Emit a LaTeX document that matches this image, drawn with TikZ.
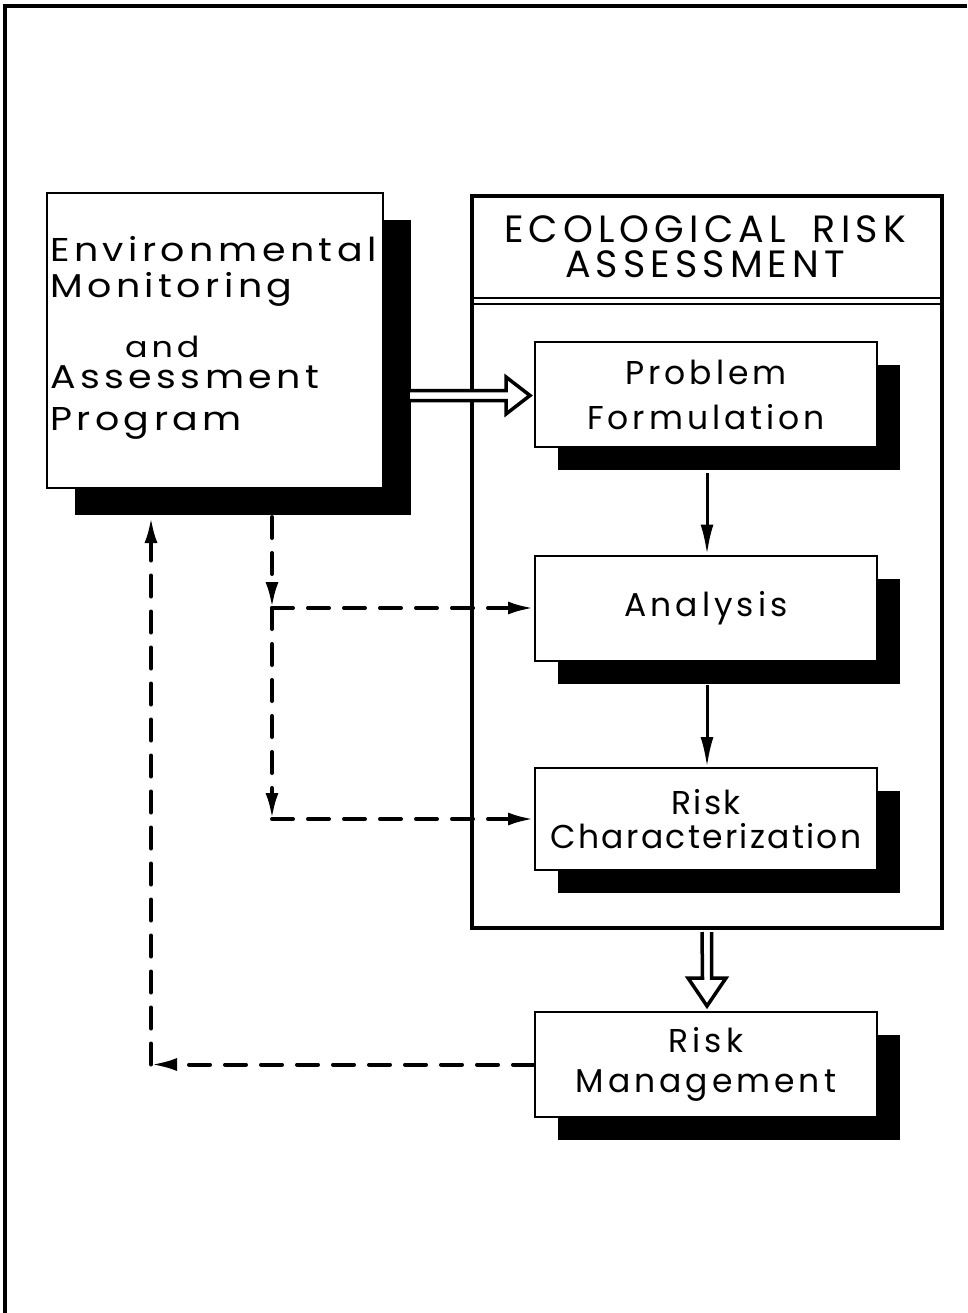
\documentclass[tikz,border=0pt]{standalone}
\usepackage{fontspec}
\setmainfont{Poppins}[LetterSpace=12]
\newfontfamily\emapfont{Poppins}[LetterSpace=13.5, FakeStretch=1.15]
\newfontfamily\narrowfont{Poppins}[LetterSpace=7]
\newfontfamily\titlefont{Poppins}[LetterSpace=13.5]
\usetikzlibrary{arrows.meta,shadows,calc}
\begin{document}
\begin{tikzpicture}[x=1pt,y=-1pt,
  box/.style={draw, line width=2pt, fill=white, minimum width=342pt, minimum height=105pt,
    inner sep=0pt, align=center},
  shad/.style={drop shadow={shadow xshift=23pt, shadow yshift=-23pt, fill=black, opacity=1}},
  bigshad/.style={drop shadow={shadow xshift=28pt, shadow yshift=-27pt, fill=black, opacity=1}},
  txt/.style={inner sep=0pt, font=\emapfont\fontsize{33}{40}\selectfont},
  hollow/.style={draw, line width=3.5pt, line join=miter, fill=white},
  solidarrow/.style={line width=3pt, -{Latex[length=30pt,width=13pt]}},
  dasharrow/.style={line width=4pt, line cap=round, dash pattern=on 21pt off 15pt,
    -{Latex[length=26pt,width=13pt]}}]
\useasboundingbox (0,0) rectangle (967,1313);
% outer frame (top and left edges visible)
\draw[line width=3.5pt] (5,1313) -- (5,6) -- (967,6);

% EMAP box
\node[box, bigshad, minimum width=336pt, minimum height=295pt] (emap) at (215,340.5) {};
\node[txt, anchor=base west] (emap1) at (50,262) {Environmental};
\node[txt, anchor=base west] (emap2) at (50,298) {Monitoring};
\node[txt, anchor=base west, font=\emapfont\fontsize{29}{29}\selectfont] (emap3) at (125,357) {and};
\node[txt, anchor=base west] (emap4) at (50,388) {Assessment};
\node[txt, anchor=base west] (emap5) at (50,430) {Program};

% ERA frame
\node[draw, line width=4pt, minimum width=470pt, minimum height=732pt, inner sep=0pt] (era) at (707,562) {};
\node[inner sep=0pt, align=center, font=\titlefont\fontsize{38}{35}\selectfont] (eratitle) at (705,247) {ECOLOGICAL\hspace{12pt} RISK\\ASSESSMENT};
\draw[line width=2pt] (472,298) -- (942,298);
\draw[line width=2pt] (472,304) -- (942,304);

% inner boxes
\node[box, shad, font=\fontsize{33}{45}\selectfont] (pf) at (706,394.5) {Problem\\Formulation};
\node[box, shad, font=\fontsize{33}{40}\selectfont] (an) at (706,608) {Analysis};
\node[box, shad, minimum height=102pt, font=\narrowfont\fontsize{33}{34}\selectfont, text depth=0pt] (rc) at (706,819) {Risk\\Characterization};
\node[box, shad, font=\fontsize{33}{40}\selectfont] (rm) at (706,1064.5) {Risk\\Management};

% hollow arrow EMAP -> Problem Formulation
\draw[hollow] ($(emap.east)+(26,50)$) -- (506,390.5) -- (506,377) -- ($(pf.west)+(-4,1)$)
  -- (506,414) -- (506,400.5) -- ($(emap.east)+(26,60)$);
% hollow arrow ERA -> Risk Management
\draw[hollow] ($(era.south)+(-5,2)$) -- (702.5,978) -- (688,978) -- ($(rm.north)+(1,-5)$)
  -- (726,978) -- (711.5,978) -- ($(era.south)+(4.5,2)$);

% solid arrows
\draw[solidarrow] ($(pf.south)+(1,25)$) -- ($(an.north)+(1,0)$);
\draw[solidarrow] ($(an.south)+(1,23)$) -- ($(rc.north)+(1,0)$);

% dashed connectors
\coordinate (e1) at (272,517);
\coordinate (j1) at (272,608);
\coordinate (j2) at (272,819);
\coordinate (j3) at (151,1064.5);
\coordinate (e2) at (151,517);
\draw[dasharrow] (e1) -- (j1);
\draw[dasharrow] (j1) -- (an.west);
\draw[dasharrow] (j1) -- (j2);
\draw[dasharrow] (j2) -- (rc.west);
\draw[dasharrow] (rm.west) -- (j3);
\draw[dasharrow] (j3) -- (e2);
\end{tikzpicture}
\end{document}
